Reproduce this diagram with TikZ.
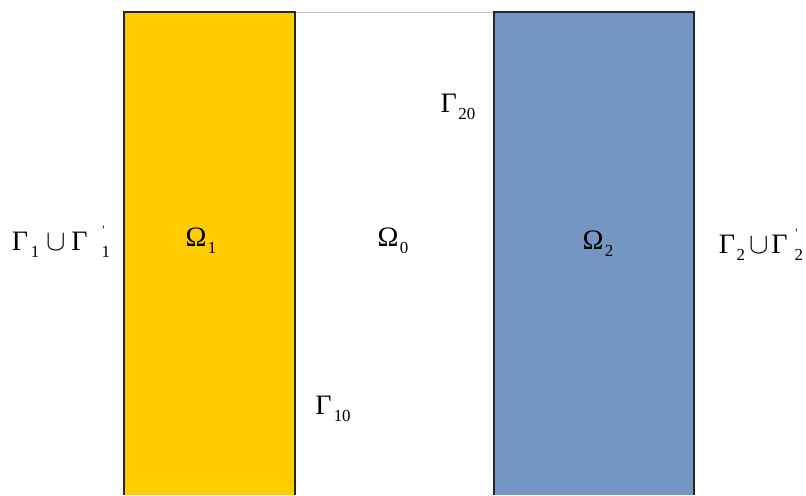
\documentclass[tikz,border=0pt]{standalone}
\usepackage{fontspec}
\setmainfont{Liberation Serif}
\definecolor{domyellow}{HTML}{FFCC00}
\definecolor{domblue}{HTML}{7396C2}
\tikzset{
  lbl/.style={font=\fontsize{20}{22}\selectfont, inner sep=0pt},
}
\newcommand{\lowsub}[1]{\raisebox{-0.55ex}{\fontsize{12}{12}\selectfont #1}}
\newcommand{\tick}{\rlap{\raisebox{1.25ex}{\fontsize{9}{9}\selectfont\kern0.5pt\textquotesingle}}}
\begin{document}
\begin{tikzpicture}[x=0.025cm,y=-0.025cm]
    \useasboundingbox (0,0) rectangle (806,495);
    % Subdomains
    \fill[domyellow] (124,12) rectangle (295,495);
    \fill[domblue] (494,12) rectangle (694,495);
    \draw[black!25, line width=0.6pt] (295,12) -- (494,12);
    \draw[black!85, line width=0.8pt] (124,495) -- (124,12) -- (295,12) -- (295,495);
    \draw[black!85, line width=0.8pt] (494,495) -- (494,12) -- (694,12) -- (694,495);
    % Labels
    \node[lbl] (om1) at (201,241) {Ω\kern1pt\lowsub{1}};
    \node[lbl] (om0) at (393,241) {Ω\kern1pt\lowsub{0}};
    \node[lbl] (om2) at (598,244) {Ω\kern1pt\lowsub{2}};
    \node[lbl] (g20) at (458,107) {Γ\kern1pt\lowsub{20}};
    \node[lbl] (g10) at (333,409) {Γ\kern1.5pt\lowsub{10}};
    \node[lbl] (g1) at (61,242) {Γ\kern2pt\lowsub{1}\kern5pt$\cup$\kern4pt Γ\kern10pt\tick\lowsub{1}};
    \node[lbl] (g2) at (761,245) {Γ\kern1pt\lowsub{2}\kern3pt$\cup$\kern2pt Γ\kern5pt\tick\lowsub{2}};
\end{tikzpicture}
\end{document}
